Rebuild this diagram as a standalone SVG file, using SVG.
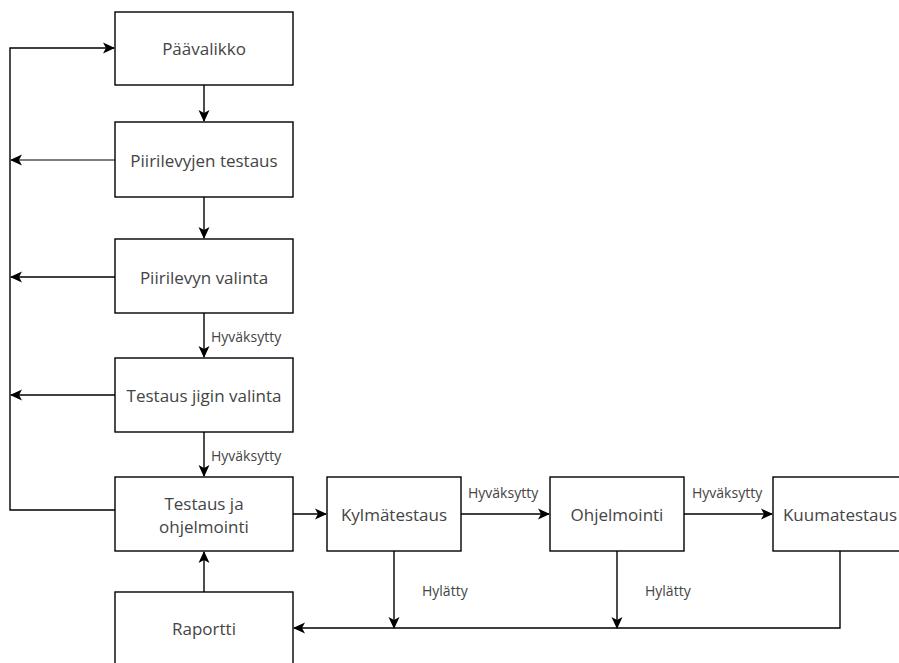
<svg xmlns="http://www.w3.org/2000/svg" width="899" height="663" viewBox="0 0 899 663">
<defs>
<style>
.box{fill:#fff;stroke:#000;stroke-width:1.4}
.t{font-family:"Open Sans",sans-serif;font-size:17px;fill:#444;text-anchor:middle;dominant-baseline:central}
.l{font-family:"Open Sans",sans-serif;font-size:14px;fill:#444;dominant-baseline:central}
.c{fill:none;stroke:#000;stroke-width:1.4}
</style>
<marker id="a" viewBox="0 0 12 12" refX="11" refY="6" markerWidth="12" markerHeight="12" markerUnits="userSpaceOnUse" orient="auto">
<path d="M0,0.5 L12,6 L0,11.5 L3,6 Z" fill="#000"/>
</marker>
</defs>
<rect width="899" height="663" fill="#fff"/>
<g id="connectors">
<path class="c" d="M115,510 H10 V48 H114" marker-end="url(#a)"/>
<path class="c" d="M204,85 V121" marker-end="url(#a)"/>
<path class="c" d="M115,160 H11" style="stroke:#555" marker-end="url(#a)"/>
<path class="c" d="M204,197 V238" marker-end="url(#a)"/>
<path class="c" d="M115,277 H11" marker-end="url(#a)"/>
<path class="c" d="M204,313 V357" marker-end="url(#a)"/>
<path class="c" d="M115,395 H11" marker-end="url(#a)"/>
<path class="c" d="M204,432 V476" marker-end="url(#a)"/>
<path class="c" d="M293,514 H326" marker-end="url(#a)"/>
<path class="c" d="M461,514 H549" marker-end="url(#a)"/>
<path class="c" d="M684,514 H772" marker-end="url(#a)"/>
<path class="c" d="M394,551 V628" marker-end="url(#a)"/>
<path class="c" d="M617,551 V628" marker-end="url(#a)"/>
<path class="c" d="M840,551 V628 H294" marker-end="url(#a)"/>
<path class="c" d="M204,592 V552" marker-end="url(#a)"/>
<text class="l" x="211" y="336">Hyväksytty</text>
<text class="l" x="211" y="455">Hyväksytty</text>
<text class="l" x="468" y="492">Hyväksytty</text>
<text class="l" x="692" y="492">Hyväksytty</text>
<text class="l" x="422" y="590">Hylätty</text>
<text class="l" x="645" y="590">Hylätty</text>
</g>
<g id="paavalikko"><rect class="box" x="115" y="12" width="178" height="73"/><text class="t" x="204" y="48">Päävalikko</text></g>
<g id="piirilevyjen-testaus"><rect class="box" x="115" y="122" width="178" height="75"/><text class="t" x="204" y="160">Piirilevyjen testaus</text></g>
<g id="piirilevyn-valinta"><rect class="box" x="115" y="239" width="178" height="74"/><text class="t" x="204" y="277">Piirilevyn valinta</text></g>
<g id="testaus-jigin-valinta"><rect class="box" x="115" y="358" width="178" height="74"/><text class="t" x="204" y="395">Testaus jigin valinta</text></g>
<g id="testaus-ja-ohjelmointi"><rect class="box" x="115" y="477" width="178" height="74"/><text class="t" x="204" y="503">Testaus ja</text><text class="t" x="204" y="526">ohjelmointi</text></g>
<g id="kylmatestaus"><rect class="box" x="327" y="477" width="134" height="74"/><text class="t" x="394" y="514">Kylmätestaus</text></g>
<g id="ohjelmointi"><rect class="box" x="550" y="477" width="134" height="74"/><text class="t" x="617" y="514">Ohjelmointi</text></g>
<g id="kuumatestaus"><rect class="box" x="773" y="477" width="134" height="74"/><text class="t" x="840" y="514">Kuumatestaus</text></g>
<g id="raportti"><rect class="box" x="115" y="592" width="178" height="90"/><text class="t" x="204" y="628">Raportti</text></g>
</svg>
